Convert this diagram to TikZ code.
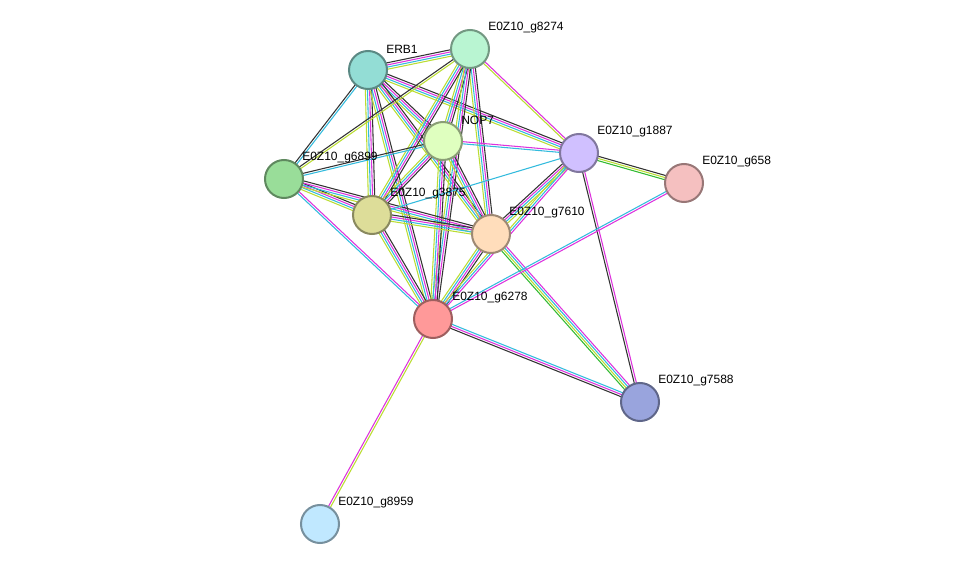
\documentclass[tikz,border=0pt]{standalone}
\usepackage{fontspec}
\setmainfont{Liberation Sans}
\usetikzlibrary{calc}
\definecolor{cK}{HTML}{333333}
\definecolor{cM}{HTML}{DD33DD}
\definecolor{cC}{HTML}{33BBDD}
\definecolor{cY}{HTML}{BBDD33}
\definecolor{cG}{HTML}{33BB33}
\newcommand{\edg}[4]{%
  \foreach \c [count=\j] in {#4} {
    \pgfmathsetmacro{\o}{(\j-(#3+1)/2)*1.6}
    \draw[\c, line width=0.8pt] ($(#1)!\o pt!90:(#2)$) -- ($(#2)!\o pt!-90:(#1)$);
  }}
\newcommand{\nd}[3]{%
  \definecolor{tmpf}{HTML}{#3}%
  \node[circle,minimum size=28.5pt,inner sep=0pt,line width=1.5pt,fill=tmpf,draw=tmpf!62!black] (#1) at (#2) {};}
\begin{document}
\begin{tikzpicture}[x=0.75pt,y=-0.75pt,
  lb/.style={anchor=south west,font=\fontsize{9}{10}\selectfont,inner sep=0pt}]
\useasboundingbox (0,0) rectangle (975,570);
\coordinate (erb) at (368,70);
\coordinate (g8274) at (470,49);
\coordinate (nop) at (443,141);
\coordinate (g1887) at (579,153);
\coordinate (g658) at (684,183);
\coordinate (g6899) at (284,179);
\coordinate (g3875) at (372,215);
\coordinate (g7610) at (491,234);
\coordinate (g6278) at (433,319);
\coordinate (g7588) at (640,402);
\coordinate (g8959) at (320,524);
\edg{erb}{g8274}{4}{cY,cC,cM,cK}
\edg{erb}{nop}{4}{cY,cC,cM,cK}
\edg{erb}{g6899}{2}{cK,cC}
\edg{erb}{g3875}{4}{cY,cC,cM,cK}
\edg{erb}{g7610}{4}{cY,cC,cM,cK}
\edg{erb}{g6278}{4}{cY,cC,cM,cK}
\edg{erb}{g1887}{4}{cY,cC,cM,cK}
\edg{g8274}{nop}{4}{cY,cC,cM,cK}
\edg{g8274}{g6899}{2}{cK,cY}
\edg{g8274}{g3875}{4}{cY,cC,cM,cK}
\edg{g8274}{g7610}{4}{cY,cC,cM,cK}
\edg{g8274}{g6278}{4}{cY,cC,cM,cK}
\edg{g8274}{g1887}{2}{cY,cM}
\edg{nop}{g6899}{2}{cK,cC}
\edg{nop}{g3875}{4}{cY,cC,cM,cK}
\edg{nop}{g7610}{4}{cY,cC,cM,cK}
\edg{nop}{g6278}{4}{cY,cC,cM,cK}
\edg{nop}{g1887}{2}{cC,cM}
\edg{g6899}{g3875}{4}{cY,cC,cM,cK}
\edg{g6899}{g7610}{4}{cY,cC,cM,cK}
\edg{g6899}{g6278}{2}{cC,cM}
\edg{g3875}{g7610}{4}{cY,cC,cM,cK}
\edg{g3875}{g6278}{4}{cY,cC,cM,cK}
\edg{g3875}{g1887}{1}{cC}
\edg{g7610}{g6278}{4}{cY,cC,cM,cK}
\edg{g7610}{g1887}{4}{cY,cC,cM,cK}
\edg{g7610}{g7588}{4}{cG,cY,cC,cM}
\edg{g1887}{g6278}{3}{cY,cC,cM}
\edg{g1887}{g658}{3}{cG,cY,cK}
\edg{g1887}{g7588}{2}{cK,cM}
\edg{g6278}{g658}{2}{cM,cC}
\edg{g6278}{g7588}{3}{cK,cM,cC}
\edg{g6278}{g8959}{2}{cM,cY}
\nd{nERB}{erb}{93DDD5}
\nd{n8274}{g8274}{B9F5D2}
\nd{nNOP}{nop}{DFFFBF}
\nd{n1887}{g1887}{D0C0FF}
\nd{n658}{g658}{F5C0C0}
\nd{n6899}{g6899}{99DD99}
\nd{n3875}{g3875}{DDDD99}
\nd{n7610}{g7610}{FFDDBB}
\nd{n6278}{g6278}{FF9999}
\nd{n7588}{g7588}{99A4DD}
\nd{n8959}{g8959}{C0E8FF}
\node[lb] (lERB) at (386,54) {ERB1};
\node[lb] (l8274) at (488,33) {E0Z10\_g8274};
\node[lb] (lNOP) at (461,125) {NOP7};
\node[lb] (l1887) at (597,137) {E0Z10\_g1887};
\node[lb] (l658) at (702,167) {E0Z10\_g658};
\node[lb] (l6899) at (302,163) {E0Z10\_g6899};
\node[lb] (l3875) at (390,199) {E0Z10\_g3875};
\node[lb] (l7610) at (509,218) {E0Z10\_g7610};
\node[lb] (l6278) at (452,303) {E0Z10\_g6278};
\node[lb] (l7588) at (658,386) {E0Z10\_g7588};
\node[lb] (l8959) at (338,508) {E0Z10\_g8959};
\end{tikzpicture}
\end{document}
